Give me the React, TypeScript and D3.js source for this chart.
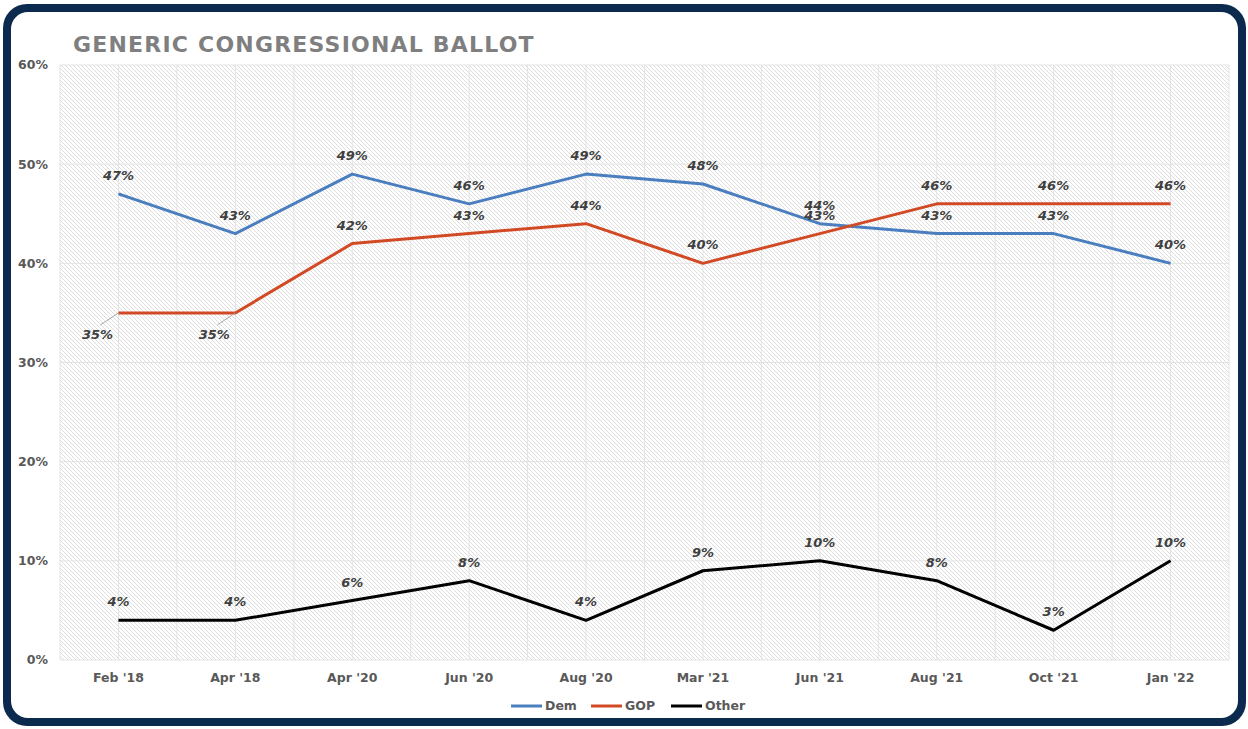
import * as d3 from "d3";
import { useEffect, useRef } from "react";

// Survey waves
const waves: string[] = [
  "Feb '18",
  "Apr '18",
  "Apr '20",
  "Jun '20",
  "Aug '20",
  "Mar '21",
  "Jun '21",
  "Aug '21",
  "Oct '21",
  "Jan '22",
];
const dem: number[] = [47, 43, 49, 46, 49, 48, 44, 43, 43, 40];
const gop: number[] = [35, 35, 42, 43, 44, 40, 43, 46, 46, 46];
const other: number[] = [4, 4, 6, 8, 4, 9, 10, 8, 3, 10];
const yTicks: number[] = [0, 10, 20, 30, 40, 50, 60];

const seriesNames: string[] = ["Dem", "GOP", "Other"];
const seriesColors: string[] = ["#4a7ebf", "#d24a25", "#000000"];

const width = 1248;
const height = 729;
const marginTop = 65;
const marginRight = 19;
const marginBottom = 69;
const marginLeft = 60;
const font = "'DejaVu Sans', 'Open Sans', sans-serif";

export default function App() {
  const svgRef = useRef<SVGSVGElement>(null);

  useEffect(() => {
    const svg = d3.select(svgRef.current);
    svg.selectAll("*").remove();

    const seriesValues = [dem, gop, other];

    // frame
    svg
      .append("rect")
      .attr("x", 3)
      .attr("y", 4)
      .attr("width", 1243)
      .attr("height", 722)
      .attr("rx", 24)
      .attr("fill", "#0b2a4d");
    svg
      .append("rect")
      .attr("x", 11)
      .attr("y", 12)
      .attr("width", 1227)
      .attr("height", 706)
      .attr("rx", 17)
      .attr("fill", "#ffffff");

    // hatch pattern
    const defs = svg.append("defs");
    const pat = defs
      .append("pattern")
      .attr("id", "hatch")
      .attr("patternUnits", "userSpaceOnUse")
      .attr("width", 4)
      .attr("height", 4);
    pat.append("rect").attr("width", 4).attr("height", 4).attr("fill", "#ffffff");
    pat
      .append("path")
      .attr("d", "M-1,-1L5,5M-1,3L1,5M3,-1L5,1")
      .attr("stroke", "#d4d4d4")
      .attr("stroke-width", 0.8);

    const x = d3
      .scalePoint<string>()
      .domain(waves)
      .range([marginLeft, width - marginRight])
      .padding(0.5);
    const step = x.step();

    const y = d3
      .scaleLinear()
      .domain([0, 60])
      .range([height - marginBottom, marginTop]);

    // plot background
    svg
      .append("rect")
      .attr("x", marginLeft)
      .attr("y", y(60))
      .attr("width", width - marginRight - marginLeft)
      .attr("height", y(0) - y(60))
      .attr("fill", "url(#hatch)");

    // vertical gridlines at every half band
    const vLines: number[] = [];
    for (let i = 0; i <= waves.length * 2; i++) vLines.push(marginLeft + (i * step) / 2);
    svg
      .append("g")
      .selectAll("line")
      .data(vLines)
      .join("line")
      .attr("x1", (d) => d)
      .attr("x2", (d) => d)
      .attr("y1", y(60))
      .attr("y2", y(0))
      .attr("stroke", "#e3e3e3")
      .attr("stroke-width", 1);

    // horizontal gridlines
    svg
      .append("g")
      .selectAll("line")
      .data(yTicks)
      .join("line")
      .attr("x1", marginLeft)
      .attr("x2", width - marginRight)
      .attr("y1", (d) => y(d))
      .attr("y2", (d) => y(d))
      .attr("stroke", "#e3e3e3")
      .attr("stroke-width", 1);

    // y axis labels
    svg
      .append("g")
      .selectAll("text")
      .data(yTicks)
      .join("text")
      .attr("x", 48)
      .attr("y", (d) => y(d))
      .attr("dy", "0.35em")
      .attr("text-anchor", "end")
      .attr("font-family", font)
      .attr("font-weight", 700)
      .attr("font-size", 12.5)
      .attr("fill", "#595959")
      .text((d) => `${d}%`);

    // x axis labels
    svg
      .append("g")
      .selectAll("text")
      .data(waves)
      .join("text")
      .attr("x", (d) => x(d)!)
      .attr("y", y(0) + 22)
      .attr("text-anchor", "middle")
      .attr("font-family", font)
      .attr("font-weight", 700)
      .attr("font-size", 12.5)
      .attr("fill", "#595959")
      .text((d) => d);

    // lines
    const line = d3
      .line<number>()
      .x((_, i) => x(waves[i])!)
      .y((d) => y(d));

    seriesValues.forEach((vals, si) => {
      svg
        .append("path")
        .datum(vals)
        .attr("d", line)
        .attr("fill", "none")
        .attr("stroke", seriesColors[si])
        .attr("stroke-width", 3)
        .attr("stroke-linejoin", "round");
    });

    // data labels
    seriesValues.forEach((vals, si) => {
      const g = svg.append("g");
      vals.forEach((v, i) => {
        const px = x(waves[i])!;
        const py = y(v);
        // the two early GOP labels sit below-left with a leader line
        const leader = si === 1 && i < 2;
        if (leader) {
          g.append("line")
            .attr("x1", px)
            .attr("y1", py)
            .attr("x2", px - 18)
            .attr("y2", py + 12)
            .attr("stroke", "#a6a6a6")
            .attr("stroke-width", 1);
        }
        g.append("text")
          .attr("x", leader ? px - 21 : px)
          .attr("y", leader ? py + 26 : py - 14)
          .attr("text-anchor", "middle")
          .attr("font-family", font)
          .attr("font-weight", 700)
          .attr("font-style", "italic")
          .attr("font-size", 13)
          .attr("fill", "#404040")
          .text(`${v}%`);
      });
    });

    // title
    svg
      .append("text")
      .attr("x", 73)
      .attr("y", 52)
      .attr("font-family", font)
      .attr("font-weight", 700)
      .attr("font-size", 22)
      .attr("letter-spacing", 1.2)
      .attr("fill", "#7f7f7f")
      .text("GENERIC CONGRESSIONAL BALLOT");

    // legend
    const legendX = [511, 591, 671];
    const lg = svg.append("g").attr("transform", "translate(0,706)");
    seriesNames.forEach((name, i) => {
      lg.append("line")
        .attr("x1", legendX[i])
        .attr("x2", legendX[i] + 31)
        .attr("y1", 0)
        .attr("y2", 0)
        .attr("stroke", seriesColors[i])
        .attr("stroke-width", 3);
      lg.append("text")
        .attr("x", legendX[i] + 34)
        .attr("y", 0)
        .attr("dy", "0.35em")
        .attr("font-family", font)
        .attr("font-weight", 700)
        .attr("font-size", 12.5)
        .attr("fill", "#595959")
        .text(name);
    });
  }, []);

  return (
    <div style={{ position: "absolute", left: 0, top: 0 }}>
      <svg ref={svgRef} width={width} height={height} style={{ display: "block" }} />
    </div>
  );
}
